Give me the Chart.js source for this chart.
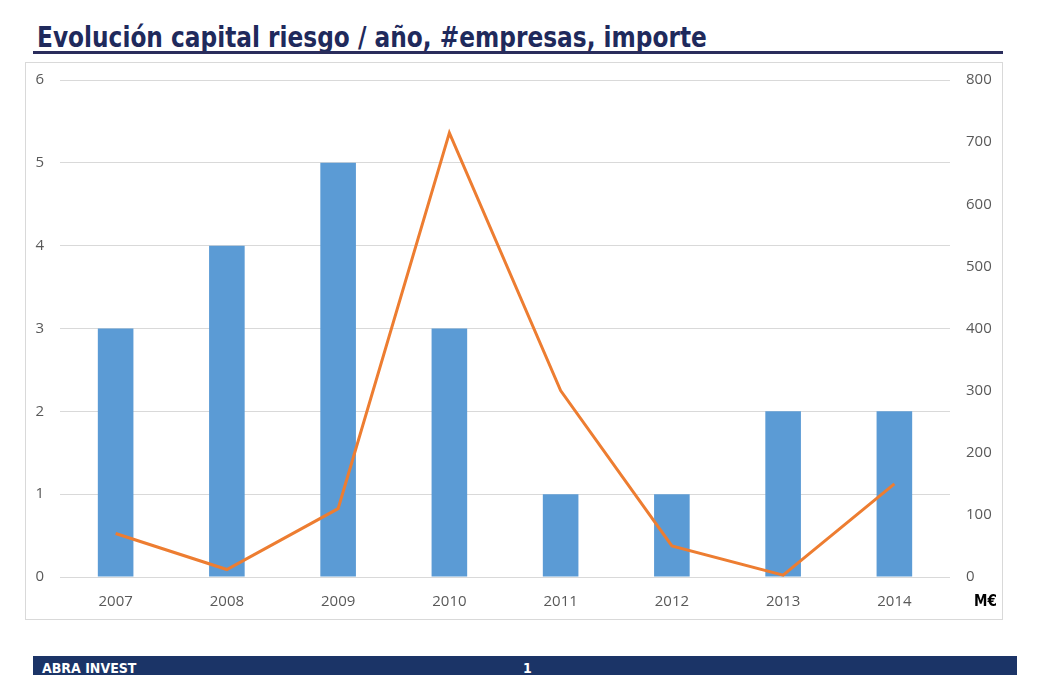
<!DOCTYPE html>
<html lang="es">
  <head>
    <meta charset="UTF-8" />
    <title>Evolución capital riesgo</title>
    <script src="https://cdn.jsdelivr.net/npm/chart.js"></script>
    <style>
      body { margin: 0; width: 1040px; height: 675px; background: #fff; position: relative; overflow: hidden; }
      #title {
        position: absolute; left: 37px; top: 21px;
        font-family: "Liberation Sans Narrow", "DejaVu Sans Condensed", sans-serif;
        font-weight: bold; font-size: 28px; color: #1f2a5c; white-space: nowrap;
        transform: scaleX(0.924); transform-origin: left top;
      }
      #rule { position: absolute; left: 33px; top: 51px; width: 970px; height: 3px; background: #2a2d5c; }
      #box {
        position: absolute; left: 25px; top: 62px; width: 976px; height: 556px;
        border: 1px solid #d9d9d9;
      }
      /* canvas sube un poco para que la rejilla superior caiga en su sitio */
      #box canvas { position: absolute; left: 0; top: -8px; }
      #unit {
        position: absolute; left: 974px; top: 592px;
        font-family: "Liberation Sans Narrow", "DejaVu Sans Condensed", sans-serif;
        font-weight: bold; font-size: 15px; color: #000;
      }
      #footer { position: absolute; left: 33px; top: 656px; width: 984px; height: 19px; background: #1b3467; }
      #footer span {
        position: absolute; top: 4px; color: #fff; font-weight: bold; font-size: 14px;
        font-family: "Liberation Sans Narrow", "DejaVu Sans Condensed", sans-serif;
      }
    </style>
  </head>
  <body>
    <div id="title">Evolución capital riesgo / año, #empresas, importe</div>
    <div id="rule"></div>
    <div id="box"><canvas id="myChart" width="976" height="564"></canvas></div>
    <div id="unit">M€</div>
    <div id="footer"><span style="left: 9px">ABRA INVEST</span><span style="left: 490px">1</span></div>

    <script>
      // datos
      const years = ["2007", "2008", "2009", "2010", "2011", "2012", "2013", "2014"];
      const empresas = [3, 4, 5, 3, 1, 1, 2, 2];
      const importe = [70, 12, 110, 715, 300, 50, 3, 150];

      const tickFont = { family: "'Open Sans', sans-serif", size: 15 };
      const tickColor = "#595959";

      const ctx = document.querySelector("#myChart").getContext("2d");
      const myChart = new Chart(ctx, {
        data: {
          labels: years,
          datasets: [
            {
              type: "line",
              label: "importe",
              data: importe,
              yAxisID: "y1",
              borderColor: "#ed7d31",
              borderWidth: 3,
              pointRadius: 0,
              tension: 0,
              order: 0,
            },
            {
              type: "bar",
              label: "#empresas",
              data: empresas,
              yAxisID: "y",
              backgroundColor: "#5b9bd5",
              categoryPercentage: 1,
              barPercentage: 0.32,
              order: 1,
            },
          ],
        },
        options: {
          responsive: false,
          animation: false,
          layout: { padding: { top: 10, left: 0, right: 0, bottom: 0 } },
          plugins: { legend: { display: false }, tooltip: { enabled: false } },
          scales: {
            x: {
              grid: { display: false, drawTicks: false },
              border: { display: false },
              ticks: { font: tickFont, color: tickColor, padding: 16 },
              afterFit: (s) => { s.height = 42; },
            },
            y: {
              position: "left",
              min: 0,
              max: 6,
              ticks: { stepSize: 1, font: tickFont, color: tickColor, padding: 16 },
              grid: { color: "#d9d9d9", drawTicks: false },
              border: { display: false },
              afterFit: (s) => { s.width = 34; },
            },
            y1: {
              position: "right",
              min: 0,
              max: 800,
              ticks: { stepSize: 100, font: tickFont, color: tickColor, padding: 16 },
              grid: { display: false, drawTicks: false },
              border: { display: false },
              afterFit: (s) => { s.width = 52; },
            },
          },
        },
      });
    </script>
  </body>
</html>
